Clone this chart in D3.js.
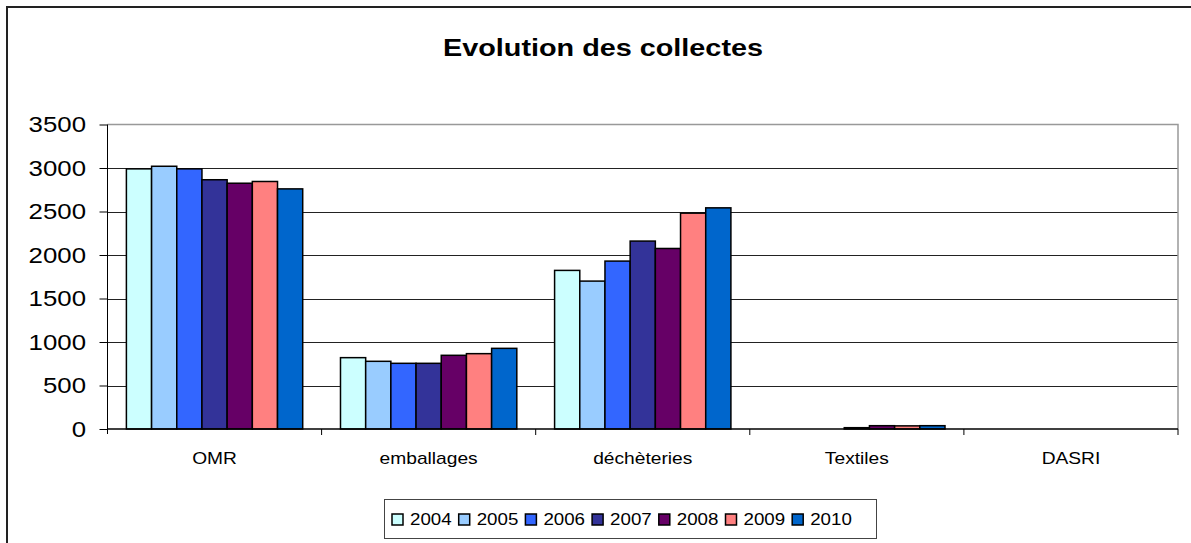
<!DOCTYPE html>
<html>
<head>
<meta charset="utf-8">
<script src="https://cdn.jsdelivr.net/npm/d3@7"></script>
<style>
  body { margin: 0; background: #fff; }
  svg { display: block; font-family: "Liberation Sans", Arial, sans-serif; }
</style>
</head>
<body>
<svg id="chart"></svg>
<script>
var categories = ["OMR", "emballages", "déchèteries", "Textiles", "DASRI"];
var years = ["2004", "2005", "2006", "2007", "2008", "2009", "2010"];
var yTicks = [0, 500, 1000, 1500, 2000, 2500, 3000, 3500];

// one array per category, values in year order
var omr = [2990, 3020, 2990, 2865, 2825, 2845, 2760];
var emballages = [820, 778, 755, 755, 847, 866, 927];
var decheteries = [1823, 1700, 1930, 2160, 2075, 2481, 2542];
var textiles = [0, 0, 0, 15, 38, 36, 38];
var dasri = [0, 0, 0, 0, 0, 0, 0];
var series = [omr, emballages, decheteries, textiles, dasri];

var colors = ["#CCFFFF", "#99CCFF", "#3366FF", "#333399", "#660066", "#FF8080", "#0066CC"];

var width = 1191, height = 543;
var stretch = 1.2; // the reference text is drawn a bit wide

var svg = d3.select("#chart").attr("width", width).attr("height", height);

// outer chart frame (cut at right and bottom in the reference)
svg.append("path")
    .attr("d", "M7,545 L7,7 L1193,7")
    .attr("fill", "none")
    .attr("stroke", "#222")
    .attr("stroke-width", 2);

function wideText(sel, x, y, anchor) {
  return sel.append("text")
      .attr("transform", "translate(" + x + "," + y + ") scale(" + stretch + ",1)")
      .attr("text-anchor", anchor)
      .attr("fill", "#000");
}

wideText(svg, 603, 56, "middle")
    .attr("font-size", 24)
    .attr("font-weight", "bold")
    .text("Evolution des collectes");

var plot = {left: 107.5, right: 1178, top: 124.5, bottom: 429};

var y = d3.scaleLinear()
    .domain([0, 3500])
    .range([plot.bottom, plot.top]);

var x0 = d3.scaleBand()
    .domain(categories)
    .range([plot.left, plot.right])
    .paddingInner(0)
    .paddingOuter(0);

var x1 = d3.scaleBand()
    .domain(years)
    .range([0, x0.bandwidth()])
    .paddingInner(0)
    .paddingOuter(0.75);

var color = d3.scaleOrdinal().domain(years).range(colors);

// gridlines
svg.append("g")
    .selectAll("line")
    .data(yTicks.filter(function(d) { return d > 0 && d < 3500; }))
  .enter().append("line")
    .attr("x1", plot.left).attr("x2", plot.right)
    .attr("y1", function(d) { return Math.round(y(d)) + 0.5; })
    .attr("y2", function(d) { return Math.round(y(d)) + 0.5; })
    .attr("stroke", "#222")
    .attr("stroke-width", 1);

// plot area border top and right (gray)
svg.append("path")
    .attr("d", "M" + plot.left + "," + plot.top + " L" + plot.right + "," + plot.top + " L" + plot.right + "," + plot.bottom)
    .attr("fill", "none")
    .attr("stroke", "#999")
    .attr("stroke-width", 1.5);

// bars
var groups = svg.append("g")
    .selectAll("g")
    .data(categories)
  .enter().append("g")
    .attr("transform", function(d) { return "translate(" + x0(d) + ",0)"; });

groups.selectAll("rect")
    .data(function(d, i) {
      return series[i].map(function(v, j) { return {year: years[j], value: v}; });
    })
  .enter().append("rect")
    .filter(function(d) { return d.value > 0; })
    .attr("x", function(d) { return x1(d.year); })
    .attr("y", function(d) { return y(d.value); })
    .attr("width", x1.bandwidth())
    .attr("height", function(d) { return plot.bottom - y(d.value); })
    .attr("fill", function(d) { return color(d.year); })
    .attr("stroke", "#000")
    .attr("stroke-width", 1.5);

// y axis
var yAxis = svg.append("g")
    .attr("transform", "translate(" + plot.left + ",0)")
    .call(d3.axisLeft(y).tickValues(yTicks).tickSize(8).tickSizeOuter(0).tickFormat(d3.format("d")));
yAxis.select(".domain").attr("d", "M0," + plot.top + " V" + (plot.bottom + 5)).attr("stroke", "#000");
yAxis.selectAll(".tick line").attr("stroke", "#000");
yAxis.selectAll(".tick text").remove();
yTicks.forEach(function(t) {
  wideText(svg, 86, y(t) + 7.5, "end")
      .attr("font-size", 21.5)
      .text(t);
});

// x axis: baseline + ticks between categories
var xAxis = svg.append("g");
xAxis.append("line")
    .attr("x1", plot.left).attr("x2", plot.right)
    .attr("y1", plot.bottom).attr("y2", plot.bottom)
    .attr("stroke", "#000").attr("stroke-width", 1.5);
xAxis.selectAll("line.tk")
    .data(categories.map(function(c) { return x0(c) + x0.bandwidth(); }))
  .enter().append("line")
    .attr("class", "tk")
    .attr("x1", function(d) { return d; }).attr("x2", function(d) { return d; })
    .attr("y1", plot.bottom).attr("y2", plot.bottom + 6)
    .attr("stroke", "#000");
categories.forEach(function(c) {
  wideText(xAxis, x0(c) + x0.bandwidth() / 2, 464, "middle")
      .attr("font-size", 16)
      .text(c);
});

// legend
var legend = svg.append("g");
legend.append("rect")
    .attr("x", 384.5).attr("y", 499.5)
    .attr("width", 492).attr("height", 39)
    .attr("fill", "#fff")
    .attr("stroke", "#444")
    .attr("stroke-width", 1);

var itemStep = 66.7;
years.forEach(function(yr, i) {
  var lx = 392 + i * itemStep;
  legend.append("rect")
      .attr("x", lx).attr("y", 514)
      .attr("width", 11).attr("height", 11)
      .attr("fill", color(yr))
      .attr("stroke", "#000")
      .attr("stroke-width", 1.5);
  wideText(legend, lx + 18, 524.5, "start")
      .attr("font-size", 15.6)
      .text(yr);
});
</script>
</body>
</html>
